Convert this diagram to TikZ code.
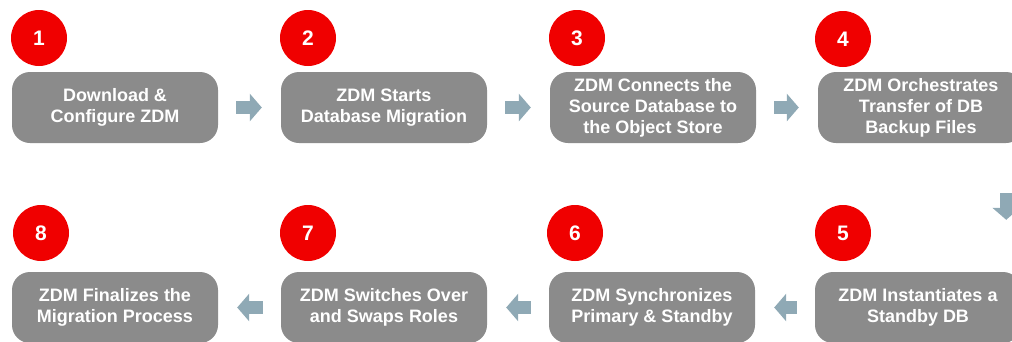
\documentclass[tikz,border=0pt]{standalone}
\usepackage{fontspec}
\setmainfont{Liberation Sans}
\usetikzlibrary{arrows.meta}
\definecolor{stepgray}{HTML}{8B8B8B}
\definecolor{flowblue}{HTML}{8FA9B5}
\definecolor{badgered}{HTML}{F00000}
\tikzset{
  stepbox/.style={fill=stepgray, rounded corners=18pt, minimum width=206pt,
    minimum height=71pt, inner sep=0pt, text=white, align=center,
    font=\bfseries\fontsize{18}{21}\selectfont},
  badge/.style={circle, fill=badgered, minimum size=56pt, inner sep=0pt,
    text=white, font=\bfseries\fontsize{21}{21}\selectfont},
  flow/.style={draw=flowblue, line width=13pt,
    -{Triangle[width=27pt,length=12pt]}, shorten <=18pt, shorten >=19pt}
}
\begin{document}
\begin{tikzpicture}[x=1pt, y=-1pt]
  \useasboundingbox (0,0) rectangle (1012,341);
  \clip (0,0) rectangle (1012,341);
  \draw
    (115,107.5) node[stepbox] (s1){Download \&\\Configure ZDM}
    (384,107.5) node[stepbox] (s2){ZDM Starts\\Database Migration}
    (653,107.5) node[stepbox] (s3){ZDM Connects the\\Source Database to\\the Object Store}
    (921,107.5) node[stepbox] (s4){ZDM Orchestrates\\Transfer of DB\\Backup Files}
    (918,307.5) node[stepbox] (s5){ZDM Instantiates a\\Standby DB}
    (652,307.5) node[stepbox] (s6){ZDM Synchronizes\\Primary \& Standby}
    (384,307.5) node[stepbox] (s7){ZDM Switches Over\\and Swaps Roles}
    (115,307.5) node[stepbox] (s8){ZDM Finalizes the\\Migration Process};
  \draw
    (39,38) node[badge] (n1){1}
    (308,38) node[badge] (n2){2}
    (577,38) node[badge] (n3){3}
    (843,39) node[badge] (n4){4}
    (41,233) node[badge] (n8){8}
    (308,233) node[badge] (n7){7}
    (575,233) node[badge] (n6){6}
    (843,233) node[badge] (n5){5};
  \begin{scope}[flow]
    \draw (s1) to (s2);
    \draw (s2) to (s3);
    \draw (s3) to (s4);
    \draw[shorten <=50pt, shorten >=52pt] ([xshift=-18pt]s4.south east) to ([xshift=-15pt]s5.north east);
    \draw (s5) to (s6);
    \draw (s6) to (s7);
    \draw (s7) to (s8);
  \end{scope}
\end{tikzpicture}
\end{document}
